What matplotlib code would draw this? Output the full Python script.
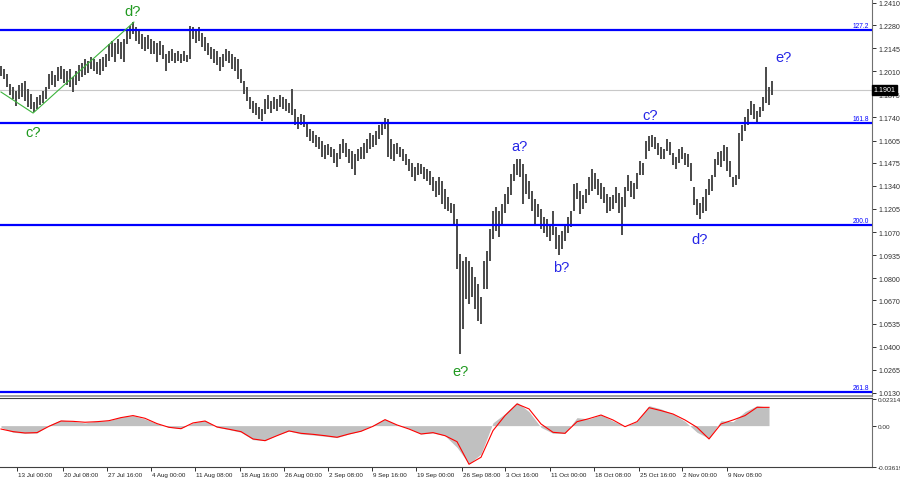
import numpy as np
import matplotlib.pyplot as plt
from matplotlib.transforms import blended_transform_factory

plt.rcParams["font.family"] = ["Liberation Sans", "DejaVu Sans"]

# bar highs / lows, one value per bar (left to right)
highs = [
    1.2041, 1.2024, 1.1995, 1.1936, 1.1918, 1.1895, 1.1930, 1.1942, 1.1953, 1.1907,
    1.1878, 1.1830, 1.1860, 1.1872, 1.1895, 1.1918, 1.1995, 1.2012, 1.1989, 1.2036,
    1.2041, 1.2024, 1.2012, 1.2024, 1.1977, 1.2012, 1.2047, 1.2059, 1.2082, 1.2070,
    1.2094, 1.2082, 1.2064, 1.2082, 1.2094, 1.2112, 1.2170, 1.2187, 1.2176, 1.2199,
    1.2181, 1.2199, 1.2258, 1.2275, 1.2298, 1.2269, 1.2258, 1.2229, 1.2211, 1.2223,
    1.2199, 1.2187, 1.2176, 1.2187, 1.2164, 1.2112, 1.2129, 1.2141, 1.2117, 1.2129,
    1.2112, 1.2129, 1.2106, 1.2275, 1.2269, 1.2258, 1.2269, 1.2234, 1.2211, 1.2176,
    1.2152, 1.2141, 1.2129, 1.2094, 1.2112, 1.2141, 1.2129, 1.2112, 1.2094, 1.2082,
    1.2024, 1.1953, 1.1918, 1.1860, 1.1836, 1.1825, 1.1801, 1.1790, 1.1848, 1.1872,
    1.1836, 1.1860, 1.1848, 1.1872, 1.1860, 1.1848, 1.1825, 1.1907, 1.1790, 1.1743,
    1.1761, 1.1755, 1.1708, 1.1672, 1.1661, 1.1637, 1.1626, 1.1602, 1.1579, 1.1585,
    1.1567, 1.1556, 1.1532, 1.1585, 1.1614, 1.1591, 1.1556, 1.1544, 1.1527, 1.1556,
    1.1567, 1.1591, 1.1614, 1.1649, 1.1637, 1.1661, 1.1696, 1.1708, 1.1737, 1.1731,
    1.1614, 1.1585, 1.1591, 1.1567, 1.1556, 1.1527, 1.1497, 1.1474, 1.1450, 1.1474,
    1.1468, 1.1450, 1.1439, 1.1427, 1.1392, 1.1368, 1.1392, 1.1368, 1.1321, 1.1274,
    1.1240, 1.1234, 1.1146, 1.0941, 1.0900, 1.0924, 1.0900, 1.0865, 1.0807, 1.0766,
    1.0690, 1.0900, 1.0958, 1.1088, 1.1193, 1.1216, 1.1193, 1.1234, 1.1292, 1.1333,
    1.1409, 1.1468, 1.1497, 1.1497, 1.1468, 1.1409, 1.1368, 1.1309, 1.1263, 1.1234,
    1.1205, 1.1158, 1.1146, 1.1117, 1.1193, 1.1099, 1.1053, 1.1076, 1.1117, 1.1158,
    1.1193, 1.1350, 1.1356, 1.1309, 1.1286, 1.1321, 1.1392, 1.1439, 1.1415, 1.1380,
    1.1356, 1.1333, 1.1292, 1.1274, 1.1286, 1.1333, 1.1298, 1.1274, 1.1333, 1.1404,
    1.1368, 1.1356, 1.1415, 1.1486, 1.1474, 1.1602, 1.1631, 1.1637, 1.1626, 1.1591,
    1.1567, 1.1556, 1.1614, 1.1596, 1.1532, 1.1509, 1.1556, 1.1567, 1.1532, 1.1527,
    1.1474, 1.1333, 1.1263, 1.1240, 1.1274, 1.1321, 1.1380, 1.1404, 1.1497, 1.1538,
    1.1544, 1.1579, 1.1567, 1.1486, 1.1392, 1.1404, 1.1649, 1.1696, 1.1743, 1.1790,
    1.1836, 1.1819, 1.1778, 1.1801, 1.1860, 1.2036, 1.1918, 1.1953,
]
lows = [
    1.1983, 1.1965, 1.1918, 1.1872, 1.1848, 1.1807, 1.1848, 1.1860, 1.1836, 1.1801,
    1.1790, 1.1772, 1.1790, 1.1813, 1.1825, 1.1848, 1.1907, 1.1930, 1.1918, 1.1953,
    1.1965, 1.1942, 1.1930, 1.1918, 1.1889, 1.1930, 1.1953, 1.1977, 1.1989, 1.2001,
    1.2024, 1.2012, 1.1995, 1.1989, 1.2012, 1.2036, 1.2070, 1.2094, 1.2064, 1.2112,
    1.2082, 1.2064, 1.2170, 1.2199, 1.2229, 1.2187, 1.2170, 1.2141, 1.2129, 1.2141,
    1.2112, 1.2112, 1.2064, 1.2106, 1.2082, 1.2012, 1.2059, 1.2070, 1.2059, 1.2070,
    1.2059, 1.2070, 1.2064, 1.2082, 1.2199, 1.2176, 1.2187, 1.2152, 1.2129, 1.2106,
    1.2082, 1.2059, 1.2047, 1.2012, 1.2036, 1.2070, 1.2059, 1.2024, 1.2012, 1.1965,
    1.1942, 1.1878, 1.1836, 1.1790, 1.1767, 1.1755, 1.1731, 1.1719, 1.1761, 1.1790,
    1.1767, 1.1790, 1.1778, 1.1801, 1.1790, 1.1778, 1.1767, 1.1755, 1.1696, 1.1672,
    1.1696, 1.1684, 1.1626, 1.1602, 1.1591, 1.1567, 1.1556, 1.1509, 1.1497, 1.1521,
    1.1509, 1.1474, 1.1450, 1.1497, 1.1532, 1.1509, 1.1474, 1.1439, 1.1404, 1.1486,
    1.1497, 1.1497, 1.1532, 1.1556, 1.1567, 1.1579, 1.1614, 1.1637, 1.1672, 1.1509,
    1.1497, 1.1486, 1.1527, 1.1509, 1.1486, 1.1462, 1.1427, 1.1392, 1.1368, 1.1404,
    1.1410, 1.1380, 1.1368, 1.1345, 1.1309, 1.1274, 1.1286, 1.1234, 1.1205, 1.1193,
    1.1181, 1.1117, 1.0853, 1.0356, 1.0503, 1.0678, 1.0649, 1.0690, 1.0620, 1.0549,
    1.0532, 1.0737, 1.0737, 1.0900, 1.1029, 1.1076, 1.1041, 1.1117, 1.1181, 1.1234,
    1.1286, 1.1368, 1.1404, 1.1392, 1.1234, 1.1292, 1.1263, 1.1193, 1.1117, 1.1158,
    1.1088, 1.1064, 1.1041, 1.1017, 1.1053, 1.0970, 1.0935, 1.0970, 1.1017, 1.1064,
    1.1099, 1.1193, 1.1263, 1.1175, 1.1205, 1.1240, 1.1286, 1.1309, 1.1321, 1.1286,
    1.1263, 1.1240, 1.1181, 1.1193, 1.1205, 1.1240, 1.1181, 1.1053, 1.1216, 1.1309,
    1.1274, 1.1263, 1.1321, 1.1404, 1.1404, 1.1497, 1.1544, 1.1567, 1.1556, 1.1521,
    1.1497, 1.1497, 1.1544, 1.1521, 1.1462, 1.1439, 1.1474, 1.1497, 1.1462, 1.1450,
    1.1368, 1.1228, 1.1169, 1.1146, 1.1181, 1.1193, 1.1286, 1.1309, 1.1392, 1.1462,
    1.1450, 1.1486, 1.1427, 1.1392, 1.1333, 1.1345, 1.1380, 1.1602, 1.1661, 1.1696,
    1.1755, 1.1731, 1.1708, 1.1743, 1.1778, 1.1825, 1.1813, 1.1872,
]
last_price = 1.1901

# fibonacci levels
fib_prices = [1.2252, 1.1708, 1.1111, 1.0134]
fib_names = ["127.2", "161.8", "200.0", "261.8"]

price_ticks = [1.2410, 1.2280, 1.2145, 1.2010, 1.1875, 1.1740, 1.1605, 1.1475, 1.1340,
               1.1205, 1.1070, 1.0935, 1.0800, 1.0670, 1.0535, 1.0400, 1.0265, 1.0130]

# green wave line drawn on the chart (bar index, price)
wave_bars = [0, 10.7, 44.3]
wave_prices = [1.1889, 1.1766, 1.2298]

# wave labels
green_text = ["c?", "d?", "e?"]
green_bars = [10.7, 44.0, 153.3]
green_prices = [1.1655, 1.2363, 1.0257]
blue_text = ["a?", "b?", "c?", "d?", "e?"]
blue_bars = [172.7, 186.7, 216.3, 233.0, 260.7]
blue_prices = [1.1573, 1.0865, 1.1754, 1.1029, 1.2094]

# MACD, one sample every 4 bars
macd_step = 4
macd_hist = [
    -0.0015, -0.0059, -0.0068, -0.0065, 0.0006, 0.0050, 0.0038, 0.0024, 0.0041, 0.0044,
    0.0077, 0.0089, 0.0059, 0.0018, -0.0015, -0.0024, 0.0024, 0.0047, -0.0015, -0.0035,
    -0.0059, -0.0124, -0.0133, -0.0083, -0.0047, -0.0074, -0.0083, -0.0094, -0.0106, -0.0074,
    -0.0047, 0.0006, 0.0059, 0.0006, -0.0024, -0.0074, -0.0065, -0.0089, -0.0192, -0.0339,
    -0.0251, 0.0025, 0.0106, 0.0207, 0.0124, -0.0015, -0.0068, -0.0068, 0.0071, 0.0059,
    0.0097, 0.0041, -0.0006, 0.0035, 0.0177, 0.0148, 0.0103, 0.0038, -0.0059, -0.0112,
    0.0044, 0.0035, 0.0124, 0.0177, 0.0162,
]
macd_signal = [
    -0.0030, -0.0053, -0.0065, -0.0062, -0.0006, 0.0041, 0.0038, 0.0030, 0.0035, 0.0044,
    0.0071, 0.0089, 0.0065, 0.0018, -0.0015, -0.0027, 0.0024, 0.0041, -0.0012, -0.0032,
    -0.0053, -0.0118, -0.0133, -0.0089, -0.0047, -0.0068, -0.0077, -0.0089, -0.0103, -0.0074,
    -0.0050, -0.0006, 0.0053, 0.0006, -0.0030, -0.0074, -0.0062, -0.0089, -0.0142, -0.0342,
    -0.0280, -0.0044, 0.0089, 0.0192, 0.0148, 0.0015, -0.0059, -0.0068, 0.0035, 0.0062,
    0.0094, 0.0050, -0.0009, 0.0035, 0.0159, 0.0133, 0.0103, 0.0050, -0.0015, -0.0118,
    0.0015, 0.0050, 0.0089, 0.0162, 0.0162,
]

# time axis (bar index of each label)
time_bars = [-13.0, 5.3, 20.7, 35.3, 50.0, 64.7, 79.7, 94.3, 109.0, 123.7,
             138.3, 153.7, 168.0, 183.0, 197.7, 212.7, 227.0, 242.0]
time_labels = ["5 Jul 16:00", "13 Jul 00:00", "20 Jul 08:00", "27 Jul 16:00",
               "4 Aug 00:00", "11 Aug 08:00", "18 Aug 16:00", "26 Aug 00:00",
               "2 Sep 08:00", "9 Sep 16:00", "19 Sep 00:00", "26 Sep 08:00",
               "3 Oct 16:00", "11 Oct 00:00", "18 Oct 08:00", "25 Oct 16:00",
               "2 Nov 00:00", "9 Nov 08:00"]

GREEN = "#1f991f"
BLUE = "#2626e6"
LINE_BLUE = "#0000ff"
XLIM = (-0.33, 290.33)
AXIS_FONT = 5.1
MACD_FONT = 4.6
DATE_FONT = 4.5


def draw_price(ax):
    x = np.arange(len(highs))
    ax.vlines(x, lows, highs, color="#4a4a4a", linewidth=1.4)

    for level, name in zip(fib_prices, fib_names):
        ax.axhline(level, color=LINE_BLUE, linewidth=1.6, zorder=3)
        ax.text(0.997, level + 0.0006, name, transform=blended_transform_factory(ax.transAxes, ax.transData),
                ha="right", va="bottom", fontsize=4.8, color=LINE_BLUE)

    ax.axhline(last_price, color="#c8c8c8", linewidth=0.8, zorder=1)
    ax.plot(wave_bars, wave_prices, color="#3cb43c", linewidth=0.8, zorder=4)

    for t, b, p in zip(green_text, green_bars, green_prices):
        ax.text(b, p, t, ha="center", va="center", fontsize=10.5, color=GREEN)
    for t, b, p in zip(blue_text, blue_bars, blue_prices):
        ax.text(b, p, t, ha="center", va="center", fontsize=10.5, color=BLUE)

    ax.set_xlim(*XLIM)
    ax.set_ylim(1.0111, 1.2433)
    ax.set_xticks([])
    ax.yaxis.tick_right()
    ax.set_yticks(price_ticks)
    ax.set_yticklabels([f"{p:.4f}" for p in price_ticks])
    ax.tick_params(axis="y", direction="out", length=3, pad=1.5, labelsize=AXIS_FONT,
                   colors="#303030", width=0.7)

    ax.text(1.002, last_price, f"{last_price:.4f}", transform=blended_transform_factory(ax.transAxes, ax.transData),
            ha="left", va="center", fontsize=AXIS_FONT, color="white", zorder=10, clip_on=False,
            bbox=dict(facecolor="black", edgecolor="black", pad=1.0))

    for side in ["top", "left"]:
        ax.spines[side].set_visible(False)
    ax.spines["right"].set_color("#707070")
    ax.spines["bottom"].set_color("#909090")
    ax.spines["bottom"].set_linewidth(1.2)


def draw_macd(ax):
    xm = np.arange(len(macd_hist)) * macd_step
    ax.fill_between(xm, 0, macd_hist, color="#c0c0c0", linewidth=0)
    ax.plot(xm, macd_signal, color="#ff0000", linewidth=0.8)

    ax.set_xlim(*XLIM)
    ax.set_ylim(-0.0366, 0.0245)
    ax.yaxis.tick_right()
    ax.set_yticks([0.02314, 0.0, -0.03619])
    ax.set_yticklabels(["0.02314", "0.00", "-0.03619"])
    ax.tick_params(axis="y", direction="out", length=3, pad=1.0, labelsize=MACD_FONT,
                   colors="#303030", width=0.7)

    ax.set_xticks([b for b in time_bars if b > XLIM[0]])
    ax.set_xticklabels([])
    ax.tick_params(axis="x", direction="out", length=3, width=0.7, colors="#303030")
    trans = blended_transform_factory(ax.transData, ax.transAxes)
    for b, lab in zip(time_bars, time_labels):
        ax.text(b + 0.4, -0.07, lab, transform=trans, ha="left", va="top",
                fontsize=DATE_FONT, color="#202020", clip_on=False)

    ax.spines["left"].set_visible(False)
    ax.spines["top"].set_color("#404040")
    ax.spines["right"].set_color("#707070")
    ax.spines["bottom"].set_color("#404040")


def main():
    fig = plt.figure(figsize=(9, 4.85), dpi=100)
    ax = fig.add_axes([0.0, 0.1814, 0.9689, 0.8186])
    ax2 = fig.add_axes([0.0, 0.0351, 0.9689, 0.1423])
    draw_price(ax)
    draw_macd(ax2)
    fig.savefig("out.png", dpi=100)
    plt.close(fig)


if __name__ == "__main__":
    main()
